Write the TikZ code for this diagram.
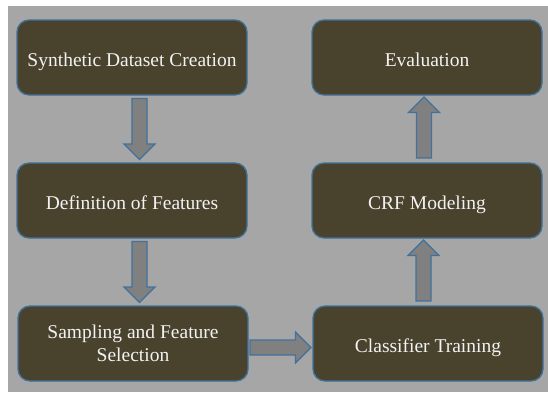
\documentclass[tikz,border=0pt]{standalone}
\usepackage{fontspec}
\setmainfont{Liberation Serif}
\usetikzlibrary{calc}
\definecolor{boxfill}{RGB}{73,67,46}
\definecolor{boxline}{RGB}{65,113,156}
\definecolor{bggray}{RGB}{166,166,166}
\definecolor{arrowfill}{RGB}{128,128,128}
% fat arrow centred at #1, turned by #2 degrees
\newcommand{\blockarrow}[2]{%
    \draw[fatarrow, shift={(#1)}, rotate=#2] (-30.5,-7.5) -- (15,-7.5) -- (15,-15.5)
        -- (30.5,0) -- (15,15.5) -- (15,7.5) -- (-30.5,7.5) -- cycle;}
\begin{document}
\begin{tikzpicture}[x=1pt, y=-1pt,
    stage/.style={draw=boxline, line width=1.3pt, fill=boxfill, rounded corners=12pt,
        minimum width=230pt, minimum height=75pt, text=white!95!black, align=center,
        text height=17pt, text depth=0pt, font=\fontsize{19.5}{23.4}\selectfont},
    fatarrow/.style={draw=boxline, line width=1.3pt, fill=arrowfill, line join=miter}]
    \useasboundingbox (0,0) rectangle (548,392);
    \fill[bggray] (8,6) rectangle (548,392);
    % left column
    \node[stage] (syn) at (132,57.5) {Synthetic Dataset Creation};
    \node[stage] (feat) at (132,200.5) {Definition of Features};
    \node[stage, text height={}, text depth={}] (samp) at (133,343.5) {Sampling and Feature\\Selection};
    % right column
    \node[stage] (clf) at (428,343.5) {Classifier Training};
    \node[stage] (crf) at (427,200.5) {CRF Modeling};
    \node[stage] (eval) at (427,57.5) {Evaluation};
    % block arrows
    \coordinate (a1) at ($(syn.south)!0.5!(feat.north)+(7.5,0)$);
    \coordinate (a2) at ($(feat.south)!0.5!(samp.north)+(7,0)$);
    \coordinate (a3) at ($(samp.east)!0.5!(clf.west)+(0,4)$);
    \coordinate (a4) at ($(clf.north)!0.5!(crf.south)+(-4,-1.5)$);
    \coordinate (a5) at ($(crf.north)!0.5!(eval.south)+(-3,-1.5)$);
    \blockarrow{a1}{-90}
    \blockarrow{a2}{-90}
    \blockarrow{a3}{0}
    \blockarrow{a4}{90}
    \blockarrow{a5}{90}
\end{tikzpicture}
\end{document}
